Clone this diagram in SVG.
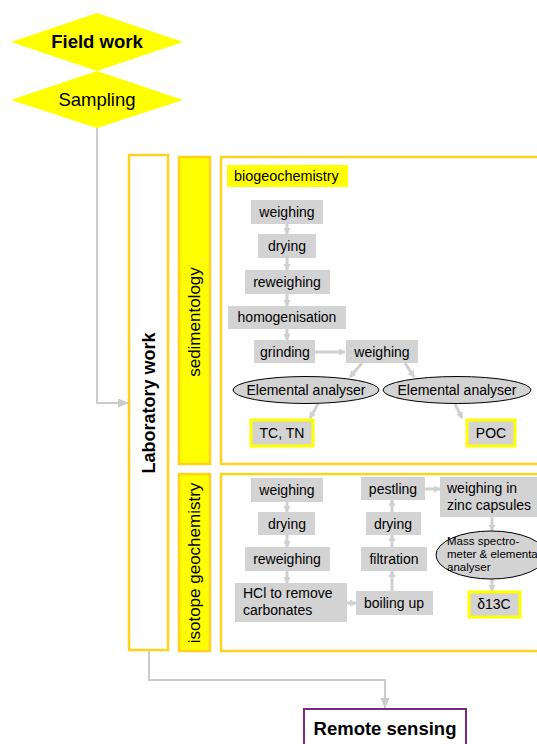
<svg xmlns="http://www.w3.org/2000/svg" width="537" height="744" viewBox="0 0 537 744">
<style>
text{font-family:"Liberation Sans",Arial,sans-serif;fill:#000}
.g{fill:#d3d3d3}
.t{font-size:14px;text-anchor:middle}
.l{font-size:14px}
.frame{fill:none;stroke:#ffd21f;stroke-width:2.5}
.side{fill:#ffff00;stroke:#ffd21f;stroke-width:2.5}
.res{fill:#d3d3d3;stroke:#ffff00;stroke-width:3}
.el{fill:#d3d3d3;stroke:#000;stroke-width:1}
.a{stroke:#d0d0d0;stroke-width:3;fill:none;marker-end:url(#ah)}
.c{stroke:#cccccc;stroke-width:2;fill:none;marker-end:url(#ah2)}
</style>
<defs>
<marker id="ah" markerUnits="userSpaceOnUse" markerWidth="8" markerHeight="8" refX="6" refY="4" orient="auto"><path d="M0,0.5 L7,4 L0,7.5 z" fill="#d0d0d0"/></marker>
<marker id="ah2" markerUnits="userSpaceOnUse" markerWidth="12" markerHeight="10" refX="10" refY="5" orient="auto"><path d="M0,0.5 L11,5 L0,9.5 z" fill="#cccccc"/></marker>
</defs>
<rect width="537" height="744" fill="#fff"/>

<g id="connectors">
<path class="c" d="M97,128 V403 H128"/>
<path class="c" d="M149,651 V680 H385 V708"/>
<line class="a" x1="287" y1="224" x2="287" y2="234"/>
<line class="a" x1="287" y1="258" x2="287" y2="270"/>
<line class="a" x1="287" y1="294" x2="287" y2="306"/>
<line class="a" x1="287" y1="329" x2="287" y2="340"/>
<line class="a" x1="315" y1="352" x2="345" y2="352"/>
<line class="a" x1="362" y1="363" x2="350" y2="377"/>
<line class="a" x1="405" y1="363" x2="414" y2="377"/>
<line class="a" x1="318" y1="404" x2="310" y2="418"/>
<line class="a" x1="455" y1="404" x2="462" y2="418"/>
<line class="a" x1="287" y1="502" x2="287" y2="512"/>
<line class="a" x1="287" y1="535" x2="287" y2="547"/>
<line class="a" x1="287" y1="571" x2="287" y2="583"/>
<line class="a" x1="347" y1="603" x2="356" y2="603"/>
<line class="a" x1="392" y1="591" x2="392" y2="571"/>
<line class="a" x1="392" y1="547" x2="392" y2="535"/>
<line class="a" x1="392" y1="512" x2="392" y2="500"/>
<line class="a" x1="425" y1="489" x2="440" y2="489"/>
<line class="a" x1="492" y1="517" x2="492" y2="531"/>
<line class="a" x1="492" y1="579" x2="492" y2="591"/>
</g>

<g id="field-work"><polygon points="11,42 97,13 183,42 97,71" fill="#ffff00"/><text x="97" y="48" font-size="18.5" font-weight="bold" text-anchor="middle">Field work</text></g>
<g id="sampling"><polygon points="11,100 97,71 183,100 97,128" fill="#ffff00"/><text x="97" y="106" font-size="18.5" text-anchor="middle">Sampling</text></g>

<g id="laboratory-work"><rect x="129" y="155" width="39" height="495" fill="#fff" stroke="#ffd21f" stroke-width="2.5"/><text transform="translate(154.5,403) rotate(-90)" font-size="18" font-weight="bold" text-anchor="middle">Laboratory work</text></g>
<g id="sedimentology"><rect class="side" x="179" y="157" width="31" height="307"/><text transform="translate(200,322) rotate(-90)" font-size="17" text-anchor="middle">sedimentology</text></g>
<g id="isotope-geochemistry"><rect class="side" x="179" y="474" width="31" height="177"/><text transform="translate(200,563) rotate(-90)" font-size="17" text-anchor="middle">isotope geochemistry</text></g>

<g id="biogeochemistry-frame"><rect class="frame" x="221" y="157" width="330" height="307"/></g>
<g id="isotope-frame"><rect class="frame" x="221" y="474" width="330" height="177"/></g>

<g id="biogeochemistry"><rect x="227" y="165" width="121" height="22" fill="#ffff00"/><text x="234" y="181" font-size="14.4">biogeochemistry</text></g>

<g id="b-weighing"><rect class="g" x="251" y="200" width="72" height="24"/><text class="t" x="287" y="217">weighing</text></g>
<g id="b-drying"><rect class="g" x="258" y="234" width="58" height="24"/><text class="t" x="287" y="251">drying</text></g>
<g id="b-reweighing"><rect class="g" x="245" y="270" width="85" height="24"/><text class="t" x="287" y="287">reweighing</text></g>
<g id="b-homogenisation"><rect class="g" x="228" y="306" width="118" height="23"/><text class="t" x="287" y="322">homogenisation</text></g>
<g id="b-grinding"><rect class="g" x="254" y="340" width="61" height="23"/><text class="t" x="285" y="357">grinding</text></g>
<g id="b-weighing2"><rect class="g" x="346" y="340" width="72" height="23"/><text class="t" x="382" y="357">weighing</text></g>
<g id="b-ea1"><ellipse class="el" cx="306" cy="390" rx="73" ry="13.5"/><text class="t" x="306" y="395">Elemental analyser</text></g>
<g id="b-ea2"><ellipse class="el" cx="457" cy="390" rx="74" ry="13.5"/><text class="t" x="457" y="395">Elemental analyser</text></g>
<g id="b-tctn"><rect class="res" x="251" y="420" width="62" height="26"/><text class="t" x="282" y="438">TC, TN</text></g>
<g id="b-poc"><rect class="res" x="467" y="420" width="48" height="26"/><text class="t" x="491" y="438">POC</text></g>

<g id="i-weighing"><rect class="g" x="251" y="478" width="72" height="24"/><text class="t" x="287" y="495">weighing</text></g>
<g id="i-drying"><rect class="g" x="258" y="512" width="57" height="23"/><text class="t" x="287" y="529">drying</text></g>
<g id="i-reweighing"><rect class="g" x="245" y="547" width="85" height="24"/><text class="t" x="287" y="564">reweighing</text></g>
<g id="i-hcl"><rect class="g" x="235" y="583" width="112" height="39"/><text class="l" x="243" y="598">HCl to remove</text><text class="l" x="243" y="615">carbonates</text></g>
<g id="i-boiling"><rect class="g" x="356" y="591" width="77" height="24"/><text class="t" x="394" y="608">boiling up</text></g>
<g id="i-filtration"><rect class="g" x="361" y="547" width="66" height="24"/><text class="t" x="394" y="564">filtration</text></g>
<g id="i-drying2"><rect class="g" x="366" y="512" width="55" height="23"/><text class="t" x="393" y="529">drying</text></g>
<g id="i-pestling"><rect class="g" x="361" y="477" width="64" height="23"/><text class="t" x="393" y="494">pestling</text></g>
<g id="i-zinc"><rect class="g" x="440" y="477" width="100" height="40"/><text class="l" x="447" y="493">weighing in</text><text class="l" x="447" y="510">zinc capsules</text></g>
<g id="i-ms"><ellipse class="el" cx="491" cy="555" rx="55" ry="24"/><text x="447" y="545" font-size="11.5">Mass spectro-</text><text x="447" y="558" font-size="11.5">meter &amp; elemental</text><text x="447" y="571" font-size="11.5">analyser</text></g>
<g id="i-d13c"><rect class="res" x="469" y="592" width="51" height="25"/><text class="t" x="494" y="609">δ13C</text></g>

<g id="remote-sensing"><rect x="304" y="709" width="162" height="45" fill="#fff" stroke="#7b2a7f" stroke-width="2"/><text x="385" y="735" font-size="18.5" font-weight="bold" text-anchor="middle">Remote sensing</text></g>
</svg>
